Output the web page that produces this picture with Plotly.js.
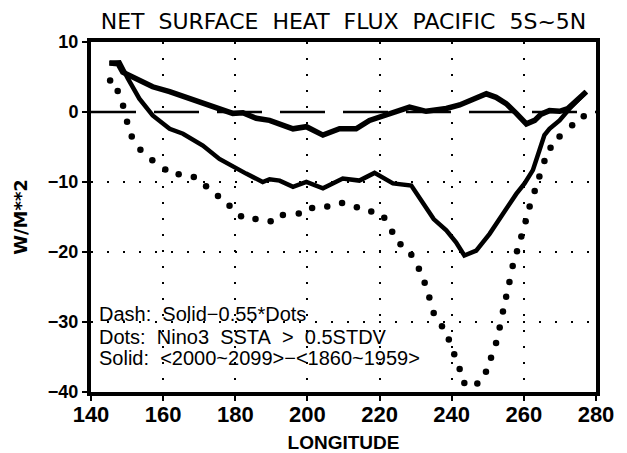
<!DOCTYPE html>
<html>
<head>
<meta charset="utf-8">
<script src="https://cdn.plot.ly/plotly-3.0.1.min.js"></script>
<style>html,body{margin:0;padding:0;background:#fff;}#chart{width:627px;height:453px;}</style>
</head>
<body>
<div id="chart"></div>
<script>
// Solid: <2000~2099> - <1860~1959>
const solidLon = [145.1,147.9,150.2,153.4,157.1,161.8,165.5,171.0,175.6,180.3,183.0,187.6,189.5,192.3,196.0,199.7,204.3,209.8,214.4,218.6,223.7,228.8,232.0,235.0,238.5,241.2,243.5,246.8,250.5,254.7,257.9,260.2,262.5,264.3,265.7,267.1,269.9,272.7,277.3];
const solidVal = [7.0,7.1,4.8,1.9,-0.5,-2.4,-3.1,-4.8,-6.7,-8.1,-8.8,-10.0,-9.6,-9.8,-10.7,-10.0,-10.9,-9.5,-9.8,-8.7,-10.2,-10.5,-12.9,-15.3,-16.9,-18.6,-20.5,-19.8,-17.4,-14.0,-11.7,-10.2,-8.3,-5.5,-3.3,-2.4,-1.2,0.5,2.9];

// Dash: Solid - 0.55*Dots
const dashLon = [145.1,147.5,148.8,152.5,157.1,161.8,166.4,171.0,174.7,179.3,182.1,185.8,189.5,192.3,194.0,196.0,199.7,204.3,208.9,213.5,217.2,220.0,224.6,228.3,232.9,238.5,242.2,245.8,249.6,252.3,255.1,257.9,260.7,263.0,264.8,267.1,269.9,272.2,275.0,277.3];
const dashVal = [7.0,6.9,5.7,4.8,3.6,2.9,2.1,1.2,0.7,-0.2,-0.1,-0.9,-1.2,-1.7,-2.1,-2.4,-2.1,-3.3,-2.4,-2.4,-1.2,-0.7,0.0,0.7,0.1,0.5,1.0,1.7,2.6,2.1,1.2,-0.2,-1.7,-1.2,-0.3,0.2,0.1,0.5,1.7,2.9];

// Dots: Nino3 SSTA > 0.5STDV
const dotsLon = [145.3,147.4,148.9,150.0,151.3,153.7,157.0,160.6,164.3,168.5,171.9,175.2,178.4,181.6,185.6,189.8,193.2,197.6,201.3,205.5,209.6,213.7,217.7,221.3,223.5,225.8,228.8,230.9,232.5,233.8,235.0,237.3,239.2,240.7,242.2,243.5,247.1,249.5,250.9,252.3,253.3,254.2,255.1,256.0,256.9,258.1,259.3,260.5,261.6,263.0,264.3,265.7,267.4,269.9,273.4,276.6];
const dotsVal = [4.5,3.0,0.9,-1.4,-3.5,-5.4,-6.9,-8.2,-8.9,-9.3,-10.6,-12.0,-13.4,-14.9,-15.3,-15.6,-14.7,-14.5,-13.7,-13.5,-13.0,-13.6,-14.2,-15.1,-17.1,-18.9,-20.4,-22.4,-24.4,-26.5,-28.7,-30.6,-32.5,-34.6,-36.7,-38.7,-38.8,-37.1,-35.1,-33.0,-30.8,-28.5,-26.4,-24.3,-22.0,-19.9,-17.8,-15.6,-13.5,-11.3,-9.2,-7.0,-5.1,-3.5,-1.9,-0.6];

const xTicks = [140,160,180,200,220,240,260,280];
const yTicks = [-40,-30,-20,-10,0,10];
const yTickText = ['\u221240','\u221230','\u221220','\u221210','0','10'];

const titleText = 'NET\u00a0 SURFACE\u00a0 HEAT\u00a0 FLUX\u00a0 PACIFIC\u00a0 5S~5N';
const noteLines = [
  'Dash:\u00a0 Solid\u22120.55*Dots',
  'Dots:\u00a0 Nino3\u00a0 SSTA\u00a0 >\u00a0 0.5STDV',
  'Solid:\u00a0 <2000~2099>\u2212<1860~1959>'
];
const noteY = [-28.8, -32.2, -35.2];

const traces = [
  {x: dotsLon, y: dotsVal, mode: 'markers', marker: {size: 6.5, color: '#000'}, hoverinfo: 'skip'},
  {x: solidLon, y: solidVal, mode: 'lines', line: {color: '#000', width: 4.5}, hoverinfo: 'skip'},
  {x: dashLon, y: dashVal, mode: 'lines', line: {color: '#000', width: 5.5}, hoverinfo: 'skip'}
];

const layout = {
  width: 627, height: 453,
  margin: {l: 91, r: 31, t: 42, b: 61},
  paper_bgcolor: '#fff', plot_bgcolor: '#fff',
  showlegend: false,
  title: {text: titleText, font: {family: 'DejaVu Sans', size: 22, color: '#000'},
          x: 0.5, xanchor: 'center', y: 1 - 21/453, yanchor: 'middle', xref: 'paper', yref: 'container'},
  xaxis: {
    range: [140, 280], tickvals: xTicks, ticktext: xTicks.map(String),
    showline: true, mirror: true, linewidth: 4, linecolor: '#000',
    ticks: 'outside', ticklen: 5, tickwidth: 2, tickcolor: '#000',
    showgrid: true, gridcolor: '#000', gridwidth: 2, griddash: '2px,14px',
    zeroline: false, ticklabelstandoff: -5,
    tickfont: {family: 'Liberation Sans', size: 22, color: '#000', weight: 'bold'},
    title: {text: 'LONGITUDE', font: {family: 'Liberation Sans', size: 19, color: '#000', weight: 'bold'}, standoff: 10}
  },
  yaxis: {
    range: [-40, 10], tickvals: yTicks, ticktext: yTickText,
    showline: true, mirror: true, linewidth: 4, linecolor: '#000',
    ticks: 'outside', ticklen: 5, tickwidth: 2, tickcolor: '#000',
    showgrid: true, gridcolor: '#000', gridwidth: 2, griddash: '2px,14px',
    zeroline: true, zerolinecolor: 'rgba(0,0,0,0)', zerolinewidth: 1,
    tickfont: {family: 'Liberation Sans', size: 18, color: '#000', weight: 'bold'},
    title: {text: 'W/M**2', font: {family: 'DejaVu Sans', size: 18, color: '#000', weight: 'bold'}, standoff: 17}
  },
  shapes: [
    {type: 'line', xref: 'paper', x0: 0, x1: 1, yref: 'y', y0: 0, y1: 0,
     line: {color: '#000', width: 2.5, dash: '45px,18px'}, layer: 'below'}
  ],
  annotations: noteLines.map((t, i) => ({
    text: t, x: 141.7, y: noteY[i], xref: 'x', yref: 'y', xanchor: 'left', yanchor: 'middle',
    showarrow: false, font: {family: 'Liberation Sans', size: 20, color: '#000'}
  }))
};

Plotly.newPlot('chart', traces, layout, {displayModeBar: false, staticPlot: true});
</script>
</body>
</html>
